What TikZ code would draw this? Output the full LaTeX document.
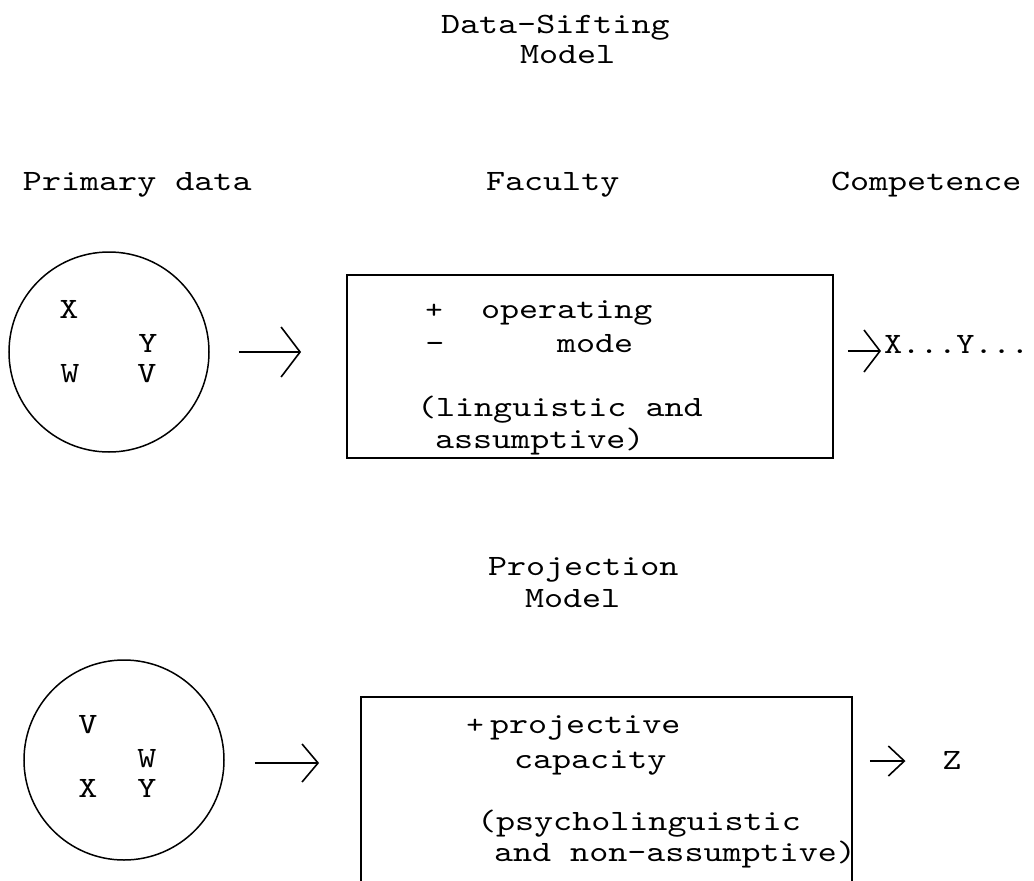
\documentclass[tikz,border=0pt]{standalone}
\usepackage{fontspec}
\newfontfamily\tw[FakeStretch=1.23]{lmmono10-regular.otf}
\newfontfamily\twn[FakeStretch=1.17]{lmmono10-regular.otf}
\usetikzlibrary{arrows.meta,calc}
\begin{document}
\begin{tikzpicture}[x=1pt,y=-1pt,
  txt/.style={font=\tw\fontsize{29.5}{30}\selectfont, inner sep=0pt, outer sep=0pt},
  tl/.style={txt, anchor=base west},
  tc/.style={txt, anchor=base},
  sgn/.style={font=\tw\fontsize{27}{28}\selectfont, inner sep=0pt, outer sep=0pt, anchor=base},
  ln/.style={line width=1.6pt},
  box/.style={draw, rectangle, line width=1.8pt, inner sep=0pt},
  ring/.style={draw, circle, line width=1.5pt, inner sep=0pt, minimum size=200pt},
  arA/.style={ln, -{Straight Barb[length=19pt,width=50pt]}},
  arB/.style={ln, -{Straight Barb[length=16pt,width=42pt]}},
  arC/.style={ln, -{Straight Barb[length=16pt,width=38pt]}},
  arD/.style={ln, -{Straight Barb[length=16pt,width=30pt]}}]
\clip (0,0) rectangle (1034,881);
\fill[white] (0,0) rectangle (1034,881);

% --- Data-Sifting Model ---
\node[tl] (t1) at (441,33) {Data-Sifting};
\node[tl] (t2) at (520,63) {Model};
\node[tl] (h1) at (23,190) {Primary data};
\node[tl] (h2) at (486,190) {Faculty};
\node[tl] (h3) at (831,190) {Competence};

\node[ring] (c1) at (109,352) {};
\node[tc] (c1x) at (69,318) {X};
\node[tc] (c1y) at (148,352) {Y};
\node[tc] (c1w) at (70,382) {W};
\node[tc] (c1v) at (147,382) {V};

\node[box, minimum width=486pt, minimum height=183pt] (b1) at (590,366.5) {};
\node[sgn] (p1) at (434,318) {+};
\node[tl] (o1) at (481,318) {operating};
\node[tc] (m1) at (435,352) {-};
\node[tl] (o2) at (557,352) {mode};
\node[tl] (o3) at (417,416) {(linguistic and};
\node[tl] (o4) at (435,448) {assumptive)};

\node[font=\twn\fontsize{29.5}{30}\selectfont, inner sep=0pt, outer sep=0pt, anchor=base west] (xy) at (884,353) {X...Y...};

\draw[arA, shorten <=29pt, shorten >=45pt] (c1.east) -- (c1.east -| b1.west);
\draw[arB, shorten <=14pt, shorten >=3pt] ($(b1.east |- xy.base west)+(0,-2)$) -- ($(xy.base west)+(0,-2)$);

% --- Projection Model ---
\node[tl] (t3) at (488,575) {Projection};
\node[tl] (t4) at (525,607) {Model};

\node[ring] (c2) at (124,760) {};
\node[tc] (c2v) at (88,733) {V};
\node[tc] (c2w) at (147,767) {W};
\node[tc] (c2x) at (88,797) {X};
\node[tc] (c2y) at (147,797) {Y};

\node[box, minimum width=491pt, minimum height=240pt] (b2) at (606.5,817) {};
\node[sgn] (p2) at (475,733) {+};
\node[tl] (q1) at (490,733) {projective};
\node[tl] (q2) at (514,768) {capacity};
\node[tl] (q3) at (477,830) {(psycholinguistic};
\node[tl] (q4) at (494,861) {and non-assumptive)};

\node[tc] (z) at (952,769) {Z};

\draw[arC, shorten <=30pt, shorten >=41pt] ($(c2.east)+(0,3)$) -- ($(c2.east -| b2.west)+(0,3)$);
\draw[arD, shorten <=17pt, shorten >=37pt] ($(b2.east |- z.base)+(0,-8)$) -- ($(z.base)+(-9.5,-8)$);
\end{tikzpicture}
\end{document}
